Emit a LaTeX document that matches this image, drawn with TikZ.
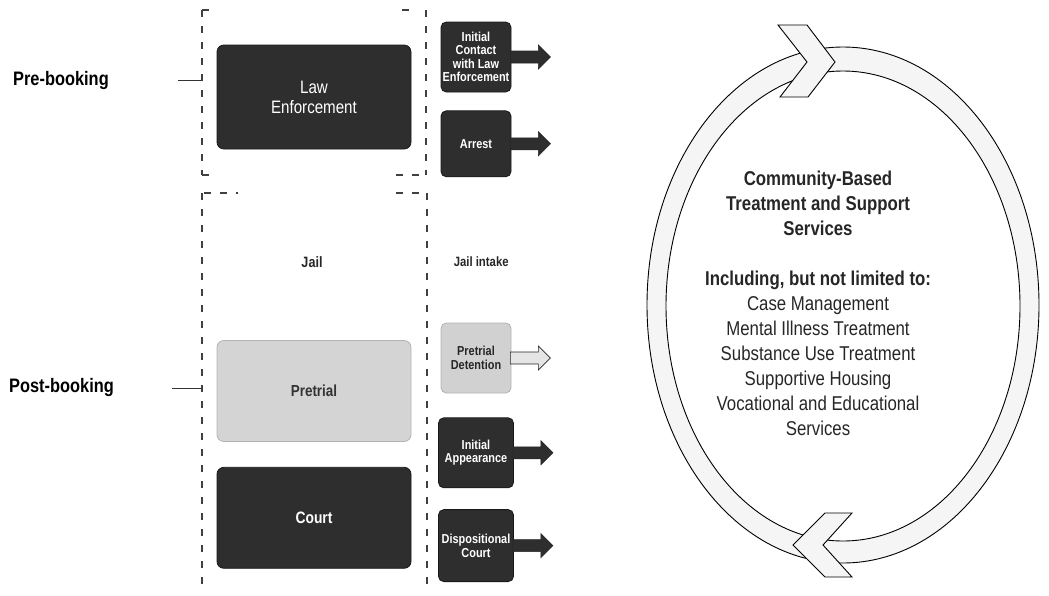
\documentclass[tikz,border=0pt]{standalone}
\usepackage{fontspec}
\setmainfont[FakeStretch=0.84]{Liberation Sans}
\usetikzlibrary{positioning}

\newcommand\outarrow[2][black!82]{%
  \draw[fill=#1, draw=black!85, line width=0.6pt]
    ([xshift=-1pt,yshift=6pt]#2.east) -- ++(28pt,0pt) -- ++(0pt,6pt)
    -- ++(12pt,-12pt) -- ++(-12pt,-12pt) -- ++(0pt,6pt) -- ++(-28pt,0pt) -- cycle;}

\begin{document}
\begin{tikzpicture}[x=1pt, y=-1pt, every node/.style={align=center, inner sep=1pt},
    stage/.style={fill=black!82, draw=black!90, text=white, rounded corners=1.3ex, minimum width=194pt, minimum height=104pt, line width=0.8pt},
    event/.style={fill=black!82, draw=black!90, text=white, rounded corners=1ex, minimum width=70pt, minimum height=70pt, font=\bfseries\fontsize{13}{13.5}\selectfont, line width=0.8pt},
    frame/.style={draw=black!75, line width=1.1pt, dash pattern=on 7pt off 9pt},
    ring/.style={fill=black!4, draw=black, line width=0.9pt}]
  \useasboundingbox (0,0) rectangle (1049,595);

  % booking frames
  \coordinate (preleft) at (202,80);
  \coordinate (postleft) at (202,388);
  \draw[frame] (202,10) -- (202,175);
  \draw[frame] (426,10) -- (426,175);
  \draw[frame] (202,10) -- (210,10) (402,10) -- (416,10);
  \draw[frame] (202,175) -- (216,175) (396,175) -- (426,175);
  \draw[frame] (202,193) -- (202,590);
  \draw[frame] (427,193) -- (427,590);
  \draw[frame] (204,193) -- (238,193) (396,193) -- (427,193);

  \node[font=\bfseries\fontsize{19.5}{22}\selectfont, anchor=west] (prebook) at (12,80) {Pre-booking};
  \node[font=\bfseries\fontsize{19.5}{22}\selectfont, anchor=west] (postbook) at (8,387) {Post-booking};
  \draw[black!80, line width=0.9pt] ([xshift=-24pt]preleft) -- (preleft);
  \draw[black!80, line width=0.9pt] ([xshift=-30pt]postleft) -- (postleft);

  % stages
  \node[stage, font=\fontsize{18}{20}\selectfont] (law) at (314,97) {Law\\Enforcement};
  \node[font=\bfseries\fontsize{15}{17}\selectfont, text=black!85] (jail) at (312,262) {Jail};
  \node[stage, fill=black!17, draw=black!30, text=black!80, minimum height=101pt, font=\bfseries\fontsize{16}{18}\selectfont] (pretrial) at (314,391) {Pretrial};
  \node[stage, minimum height=101pt, font=\bfseries\fontsize{16.5}{18}\selectfont, below=25pt of pretrial] (court) {Court};

  % intercepts
  \begin{scope}[minimum width=72pt]
    \node[event] (contact) at (476,57) {Initial\\Contact\\with Law\\Enforcement};
    \node[event, minimum height=66pt, below=18pt of contact] (arrest) {Arrest};
    \node[anchor=west, font=\bfseries\fontsize{13.5}{15}\selectfont, text=black!85] (intake) at (445,262) {Jail intake};
    \node[event, fill=black!18, draw=black!30, text=black!85] (detention) at (476,358) {Pretrial\\Detention};
    \node[event, minimum width=75pt, below=24pt of detention] (appear) {Initial\\Appearance};
    \node[event, minimum width=75pt, minimum height=72pt, below=21pt of appear] (dispo) {Dispositional\\Court};
  \end{scope}
  \outarrow{contact}
  \outarrow{arrest}
  \outarrow[black!10]{detention}
  \outarrow{appear}
  \outarrow{dispo}

  % community services cycle
  \draw[ring, even odd rule] (843,305) ellipse [x radius=196pt, y radius=258pt]
    (843,306) ellipse [x radius=177pt, y radius=235pt];
  \draw[ring] (778,25) -- (807,25) -- (835,62) -- (808,97) -- (780,97) -- (807,62) -- cycle;
  \draw[ring] (825,513) -- (852,513) -- (823,545) -- (852,577) -- (825,577) -- (793,545) -- cycle;
  \node[font=\fontsize{20}{25}\selectfont, text=black!85] (services) at (818,303)
    {\textbf{Community-Based}\\\textbf{Treatment and Support}\\\textbf{Services}\\[25pt]
     \textbf{Including, but not limited to:}\\Case Management\\Mental Illness Treatment\\
     Substance Use Treatment\\Supportive Housing\\Vocational and Educational\\Services};
\end{tikzpicture}
\end{document}
